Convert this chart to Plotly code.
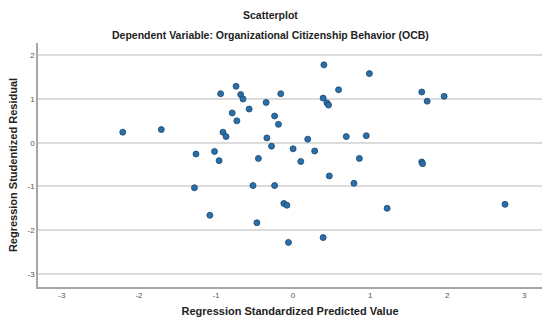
import plotly.graph_objects as go

# Regression Standardized Predicted Value
pred = [-2.21, -1.71, -1.26, -1.28, -1.08, -1.02, -0.96, -0.94, -0.91, -0.87,
        -0.79, -0.74, -0.73, -0.68, -0.65, -0.57, -0.52, -0.47, -0.45, -0.35,
        -0.34, -0.28, -0.24, -0.24, -0.19, -0.16, -0.12, -0.08, -0.06, 0.00,
        0.10, 0.19, 0.28, 0.39, 0.39, 0.40, 0.44, 0.46, 0.47, 0.59,
        0.69, 0.79, 0.86, 0.95, 0.99, 1.22, 1.67, 1.67, 1.68, 1.74,
        1.96, 2.75]
# Regression Studentized Residual
resid = [0.24, 0.30, -0.26, -1.03, -1.66, -0.20, -0.41, 1.12, 0.24, 0.14,
         0.68, 1.29, 0.50, 1.10, 1.00, 0.77, -0.98, -1.83, -0.36, 0.92,
         0.11, -0.08, 0.61, -0.98, 0.42, 1.12, -1.39, -1.43, -2.28, -0.14,
         -0.43, 0.08, -0.19, 1.02, -2.17, 1.78, 0.91, 0.86, -0.76, 1.21,
         0.14, -0.93, -0.36, 0.16, 1.58, -1.50, 1.16, -0.44, -0.48, 0.95,
         1.06, -1.41]

x_ticks = [-3, -2, -1, 0, 1, 2, 3]
y_ticks = [-3, -2, -1, 0, 1, 2]

W, H = 542, 320
ML, MR, MT, MB = 38, 0, 43, 33

fig = go.Figure()
fig.add_trace(go.Scatter(
    x=pred, y=resid, mode="markers",
    marker=dict(size=6, color="#2a6fa8", line=dict(color="#1a4670", width=0.8)),
    hoverinfo="skip", showlegend=False,
))

font = "Liberation Sans, Arial, sans-serif"
plot_h = H - MT - MB
plot_w = W - ML - MR

def py(pix):
    return (H - MB - pix) / plot_h

def px(pix):
    return (pix - ML) / plot_w

fig.update_layout(
    width=W, height=H,
    margin=dict(l=ML, r=MR, t=MT, b=MB),
    paper_bgcolor="white", plot_bgcolor="white",
    font=dict(family=font, color="#222"),
    xaxis=dict(
        range=[-3.31, 3.23], tickvals=x_ticks, ticktext=[str(v) for v in x_ticks],
        showgrid=False, zeroline=False, showline=True, linecolor="#a6a6a6", linewidth=1.5,
        tickfont=dict(size=8, color="#555"), ticks="", ticklen=0,
        title=dict(text="<b>Regression Standardized Predicted Value</b>",
                   font=dict(size=11, color="#222"), standoff=8),
    ),
    yaxis=dict(
        range=[-3.30, 2.28], tickvals=y_ticks, ticktext=[str(v) for v in y_ticks],
        showgrid=True, gridcolor="#dcdcdc", gridwidth=1.5,
        zeroline=False, showline=True, linecolor="#a6a6a6", linewidth=1.5,
        tickfont=dict(size=8, color="#555"), ticks="", ticklen=0,
        title=dict(text="<b>Regression Studentized Residual</b>",
                   font=dict(size=11, color="#222"), standoff=8),
    ),
    annotations=[
        dict(text="<b>Scatterplot</b>", x=px(270), y=py(15), xref="paper", yref="paper",
             xanchor="center", yanchor="middle",
             showarrow=False, font=dict(size=10.5, color="#222")),
        dict(text="<b>Dependent Variable: Organizational Citizenship Behavior (OCB)</b>",
             x=px(270), y=py(35), xref="paper", yref="paper",
             xanchor="center", yanchor="middle",
             showarrow=False, font=dict(size=10.5, color="#222")),
    ],
)

fig.write_html("out.html", config={"displayModeBar": False},
               post_script="document.body.style.margin='0';")
